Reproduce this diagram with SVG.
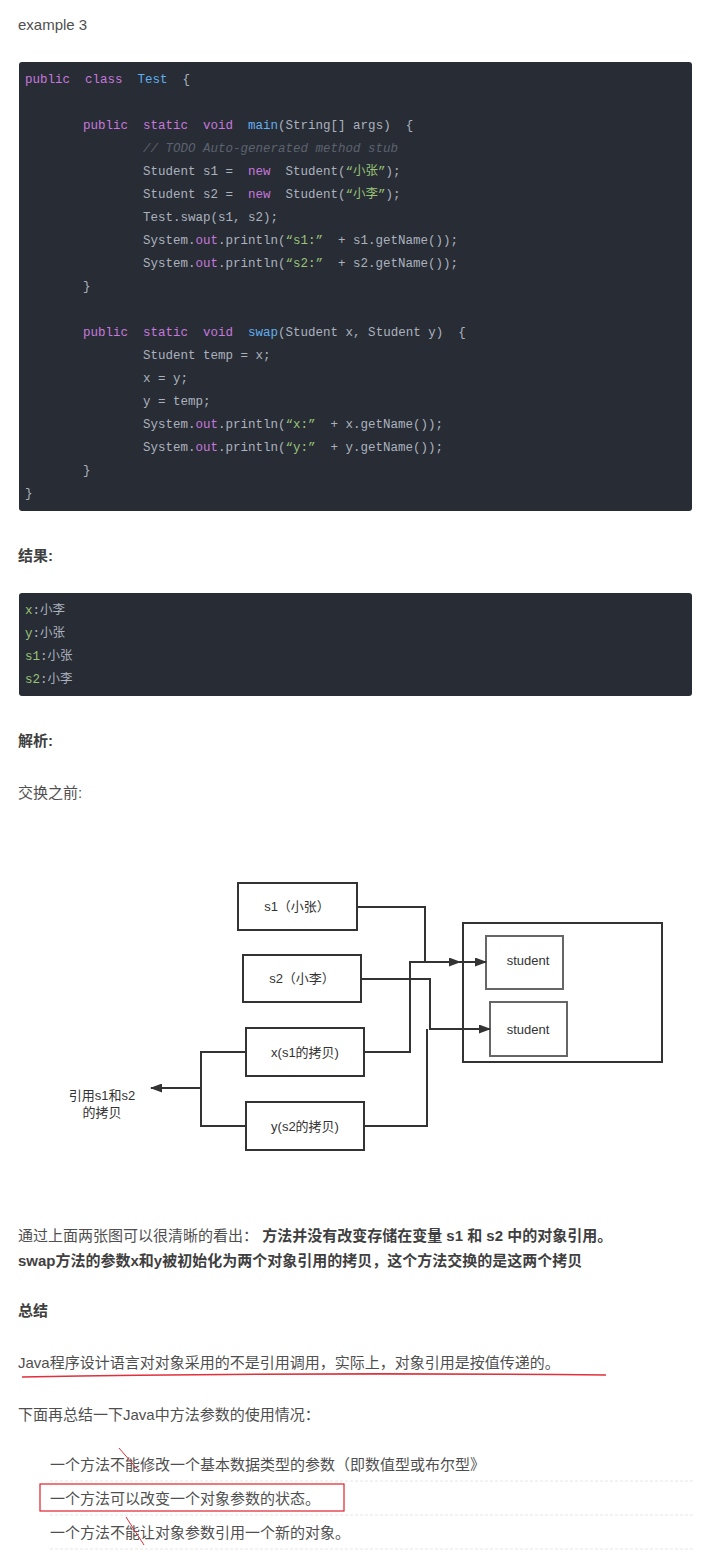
<svg xmlns="http://www.w3.org/2000/svg" width="714" height="1556" viewBox="0 0 714 1556">
<defs>
<style>
.t{font-family:"Liberation Sans","Noto Sans CJK SC",sans-serif;font-size:15px;fill:#4f4f4f}
.b{font-weight:bold;fill:#3f3f3f}
.c{font-family:"Liberation Mono","Noto Sans CJK SC",monospace;font-size:12.5px;fill:#abb2bf}
.k{fill:#c678dd}.f{fill:#61afef}.s{fill:#98c379}.cm{fill:#5c6370;font-style:italic}
.d{font-family:"Liberation Sans","Noto Sans CJK SC",sans-serif;font-size:13px;fill:#333}
.box{fill:#fff;stroke:#333;stroke-width:2}
.ln{fill:none;stroke:#333;stroke-width:2}
.sep{stroke:#e6e6e6;stroke-dasharray:3 2}
</style>
<marker id="ar" markerWidth="12" markerHeight="9" refX="11" refY="4.5" orient="auto" markerUnits="userSpaceOnUse"><path d="M0,0L12,4.5L0,9z" fill="#333"/></marker>
</defs>
<rect width="714" height="1556" fill="#fff"/>
<text class="t" x="18" y="30">example 3</text>
<rect x="19" y="62" width="673" height="449" rx="3" fill="#282c34"/>
<g class="c">
<text x="25" y="83"><tspan class="k">public</tspan>&#160; <tspan class="k">class</tspan>&#160; <tspan class="f">Test</tspan>&#160; {</text>
<text x="83" y="129"><tspan class="k">public</tspan>&#160; <tspan class="k">static</tspan>&#160; <tspan class="k">void</tspan>&#160; <tspan class="f">main</tspan>(String[] args)&#160; {</text>
<text x="143" y="152" class="c cm">// TODO Auto-generated method stub</text>
<text x="143" y="175">Student s1 =&#160; <tspan class="k">new</tspan>&#160; Student(<tspan class="s">“小张”</tspan>);</text>
<text x="143" y="198">Student s2 =&#160; <tspan class="k">new</tspan>&#160; Student(<tspan class="s">“小李”</tspan>);</text>
<text x="143" y="221">Test.swap(s1, s2);</text>
<text x="143" y="244">System.<tspan class="k">out</tspan>.println(<tspan class="s">“s1:”</tspan>&#160; + s1.getName());</text>
<text x="143" y="267">System.<tspan class="k">out</tspan>.println(<tspan class="s">“s2:”</tspan>&#160; + s2.getName());</text>
<text x="83" y="290">}</text>
<text x="83" y="336"><tspan class="k">public</tspan>&#160; <tspan class="k">static</tspan>&#160; <tspan class="k">void</tspan>&#160; <tspan class="f">swap</tspan>(Student x, Student y)&#160; {</text>
<text x="143" y="359">Student temp = x;</text>
<text x="143" y="382">x = y;</text>
<text x="143" y="405">y = temp;</text>
<text x="143" y="428">System.<tspan class="k">out</tspan>.println(<tspan class="s">“x:”</tspan>&#160; + x.getName());</text>
<text x="143" y="451">System.<tspan class="k">out</tspan>.println(<tspan class="s">“y:”</tspan>&#160; + y.getName());</text>
<text x="83" y="474">}</text>
<text x="25" y="497">}</text>
</g>
<text class="t b" x="18" y="561">结果:</text>
<rect x="19" y="593" width="673" height="103" rx="3" fill="#282c34"/>
<g class="c">
<text x="25" y="614"><tspan class="s">x</tspan>:小李</text>
<text x="25" y="637"><tspan class="s">y</tspan>:小张</text>
<text x="25" y="660"><tspan class="s">s1</tspan>:小张</text>
<text x="25" y="683"><tspan class="s">s2</tspan>:小李</text>
</g>
<text class="t b" x="18" y="746">解析:</text>
<text class="t" x="18" y="798">交换之前:</text>

<g id="container"><rect x="463" y="923" width="199" height="139" fill="none" stroke="#333" stroke-width="2"/></g>
<g id="student1"><rect x="486" y="936" width="77" height="53" fill="#fff" stroke="#666" stroke-width="2"/><text class="d" x="528" y="965" text-anchor="middle">student</text></g>
<g id="student2"><rect x="490" y="1002" width="77" height="54" fill="#fff" stroke="#666" stroke-width="2"/><text class="d" x="528" y="1034" text-anchor="middle">student</text></g>
<g id="s1"><rect class="box" x="238" y="883" width="119" height="47"/><text class="d" x="297" y="911" text-anchor="middle">s1（小张）</text></g>
<g id="s2"><rect class="box" x="243" y="955" width="118" height="47"/><text class="d" x="302" y="983" text-anchor="middle">s2（小李）</text></g>
<g id="x"><rect class="box" x="246" y="1028" width="118" height="48"/><text class="d" x="305" y="1057" text-anchor="middle">x(s1的拷贝)</text></g>
<g id="y"><rect class="box" x="246" y="1102" width="118" height="48"/><text class="d" x="305" y="1131" text-anchor="middle">y(s2的拷贝)</text></g>
<g id="label"><text class="d" x="102" y="1100" text-anchor="middle">引用s1和s2</text><text class="d" x="102" y="1117" text-anchor="middle">的拷贝</text></g>
<g id="connectors">
<polyline class="ln" points="357,907 425,907 425,962 460,962" marker-end="url(#ar)"/>
<polyline class="ln" points="364,1052 410,1052 410,962 486,962" marker-end="url(#ar)"/>
<polyline class="ln" points="361,979 430,979 430,1029 490,1029" marker-end="url(#ar)"/>
<polyline class="ln" points="364,1126 427,1126 427,1029"/>
<polyline class="ln" points="246,1052 201,1052 201,1126 246,1126"/>
<line class="ln" x1="201" y1="1088" x2="151" y2="1088" marker-end="url(#ar)"/>
</g>

<text class="t" x="18" y="1241">通过上面两张图可以很清晰的看出： <tspan class="b">方法并没有改变存储在变量 s1 和 s2 中的对象引用。</tspan></text>
<text class="t b" x="18" y="1266">swap方法的参数x和y被初始化为两个对象引用的拷贝，这个方法交换的是这两个拷贝</text>
<text class="t b" x="18" y="1316">总结</text>
<text class="t" x="18" y="1368">Java程序设计语言对对象采用的不是引用调用，实际上，对象引用是按值传递的。</text>
<path d="M22,1377 Q300,1372 606,1375" fill="none" stroke="#e0303a" stroke-width="1.5"/>
<text class="t" x="18" y="1420">下面再总结一下Java中方法参数的使用情况：</text>
<text class="t" x="50" y="1470">一个方法不能修改一个基本数据类型的参数（即数值型或布尔型》</text>
<line class="sep" x1="50" y1="1481" x2="694" y2="1481"/>
<text class="t" x="50" y="1504">一个方法可以改变一个对象参数的状态。</text>
<rect x="40" y="1484" width="304" height="27" fill="none" stroke="#e0202a" stroke-width="1.2"/>
<line class="sep" x1="50" y1="1515" x2="694" y2="1515"/>
<text class="t" x="50" y="1538">一个方法不能让对象参数引用一个新的对象。</text>
<line class="sep" x1="50" y1="1549" x2="694" y2="1549"/>
<line x1="119" y1="1448" x2="138" y2="1470" stroke="#e0303a" stroke-width="1"/>
<line x1="126" y1="1517" x2="144" y2="1545" stroke="#e0303a" stroke-width="1"/>
</svg>
